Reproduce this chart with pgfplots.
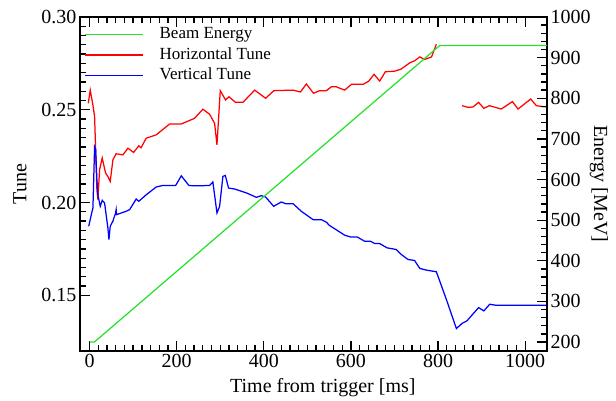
\documentclass[border=0pt]{standalone}
\usepackage{pgfplots}
\pgfplotsset{compat=1.18}
\usepackage{fontspec}
\setmainfont{Liberation Serif}

\definecolor{beamgreen}{RGB}{40,225,40}

\pgfplotsset{
  tunebase/.style={
    scale only axis, width=467pt, height=334pt,
    at={(0pt,0pt)}, anchor=south west,
    xmin=-22, xmax=1050,
    tick align=inside,
    major tick length=10pt, minor tick length=6pt,
    every tick/.style={black, line width=1.3pt},
    axis line style={line width=1.3pt},
    ticklabel style={font=\rmfamily\fontsize{20}{24}\selectfont},
    label style={font=\rmfamily\fontsize{20}{24}\selectfont},
    /pgf/number format/assume math mode=true,
    /pgf/number format/set thousands separator={},
    xticklabel={\pgfmathprintnumber{\tick}},
    yticklabel={\pgfmathprintnumber{\tick}},
  },
}

\begin{document}
\begin{tikzpicture}
\path[use as bounding box] (-80pt,-49pt) rectangle (536pt,351pt);

% left axis: tunes
\begin{axis}[tunebase,
    ymin=0.12, ymax=0.30,
    ytick={0.15,0.20,0.25,0.30},
    minor y tick num=9,
    xtick={0,200,...,1000},
    minor x tick num=9,
    xtick pos=both, xticklabel pos=lower,
    ytick pos=left,
    scaled y ticks=false,
    yticklabel style={/pgf/number format/.cd, fixed, fixed zerofill, precision=2},
    xlabel={Time from trigger [ms]},
    ylabel={Tune},
    xlabel style={at={(axis description cs:0.52,-0.1257)}, anchor=base},
    ylabel style={at={(axis description cs:-0.1285,0.5)}, anchor=center},
  ]
\addplot[red, line width=1.25pt] coordinates {
  (-3,0.2535) (1.5,0.2606) (7.6,0.2526) (11.5,0.2463) (16.8,0.2069) (19,0.2016)
  (23,0.2177) (29,0.2240) (36.7,0.2159) (42,0.2140) (47.4,0.2114) (53.5,0.2230)
  (61,0.2263) (76.5,0.2257) (88,0.2293) (101,0.2270) (113,0.2306) (118,0.2295)
  (130,0.2347) (153,0.2365) (184,0.2424) (211,0.2424) (241,0.2454) (260,0.2503)
  (275.5,0.2476) (287,0.2427) (292.4,0.2311) (300,0.2603) (312,0.2553) (320,0.2570)
  (335,0.2540) (352,0.2540) (379,0.2606) (404,0.2562) (423,0.2603) (467,0.2606)
  (484,0.2596) (497.6,0.2639) (514,0.2589) (528,0.2603) (543.5,0.2603) (555,0.2624)
  (566,0.2624) (585.5,0.2606) (601,0.2637) (628,0.2637) (641,0.2655) (653,0.2691)
  (666,0.2655) (679,0.2705) (700,0.2708) (715,0.2719) (735,0.2753) (746,0.2764)
  (758,0.2785) (769,0.2771) (785,0.2785) (796,0.2853)
};
\addplot[red, line width=1.25pt] coordinates {
  (855,0.2522) (869,0.2513) (880,0.2515) (893,0.2540) (905,0.2508) (918,0.2522)
  (945,0.2504) (970.6,0.2544) (983.5,0.2504) (1012.6,0.2558) (1025.6,0.2522)
  (1041,0.2517) (1050,0.2517)
};
\addplot[blue, line width=1.25pt] coordinates {
  (-2,0.1872) (4,0.1935) (7.7,0.1971) (11.5,0.2302) (13.8,0.2290) (16.8,0.2123)
  (19,0.2042) (24.5,0.1980) (29,0.2012) (34.4,0.1998) (42,0.1864) (44.4,0.1800)
  (47.4,0.1872) (53.5,0.1900) (59.7,0.1944) (61,0.1962) (62,0.1935) (84,0.1953)
  (92,0.1962) (107,0.2019) (113,0.2007) (130,0.2042) (153,0.2084) (168,0.2092)
  (197.5,0.2092) (210.5,0.2144) (228,0.2092) (243,0.2090) (275.5,0.2092) (283,0.2111)
  (292.4,0.1944) (298.5,0.1980) (306,0.2141) (311.6,0.2146) (319,0.2078) (333,0.2073)
  (360,0.2052) (383,0.2028) (394,0.2037) (404,0.2030) (422.5,0.1980) (440,0.2003)
  (450,0.1994) (467,0.1994) (486,0.1953) (513,0.1908) (532,0.1908) (543.6,0.1894)
  (551,0.1876) (566,0.1854) (585.5,0.1824) (598.6,0.1815) (614,0.1815) (631,0.1792)
  (644.6,0.1792) (654.5,0.1779) (666,0.1779) (682.7,0.1756) (704,0.1747) (715.7,0.1720)
  (731,0.1693) (746,0.1688) (758,0.1645) (773,0.1636) (796,0.1627) (819,0.1478)
  (842,0.1321) (855.6,0.1350) (866,0.1362) (893,0.1434) (905,0.1416) (918.5,0.1452)
  (934,0.1446) (1050,0.1446)
};
\end{axis}

% right axis: beam energy
\begin{axis}[tunebase,
    ymin=178, ymax=1000,
    axis y line*=right, axis x line=none,
    tick align=inside,
    ytick={200,300,...,1000},
    minor y tick num=4,
    ylabel={Energy [MeV]},
    ylabel style={rotate=180, at={(axis description cs:1.111,0.5)}, anchor=center},
    legend cell align=left,
    legend image code/.code={\draw[#1] (0pt,0pt) -- (58pt,0pt);},
    legend style={draw=none, fill=none, at={(0.0086,0.978)}, anchor=north west,
      font=\fontsize{17}{19}\selectfont, inner sep=0pt,
      nodes={inner xsep=3pt, inner ysep=3.2pt, text height=11pt, text depth=3pt},
      /tikz/every odd column/.append style={column sep=13pt}},
  ]
\addplot[beamgreen, line width=1.25pt, forget plot] coordinates {
  (0,200) (11,200) (804,930) (1050,930)
};
\addlegendimage{beamgreen, line width=1.4pt}
\addlegendentry{Beam Energy}
\addlegendimage{red, line width=1.4pt}
\addlegendentry{Horizontal Tune}
\addlegendimage{blue, line width=1.4pt}
\addlegendentry{Vertical Tune}
\end{axis}
\end{tikzpicture}
\end{document}
